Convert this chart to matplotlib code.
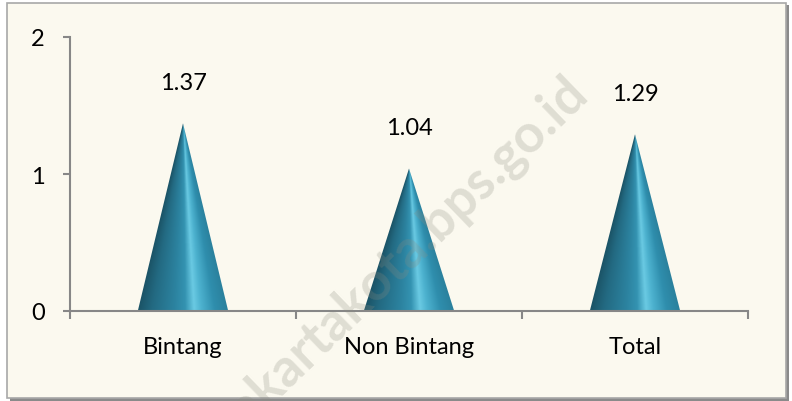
import numpy as np
import matplotlib.pyplot as plt
from matplotlib.patches import Polygon, Rectangle
from matplotlib.colors import LinearSegmentedColormap

# Data
categories = ["Bintang", "Non Bintang", "Total"]
values = [1.37, 1.04, 1.29]
y_ticks = [0, 1, 2]

plt.rcParams['font.family'] = ['Lato', 'DejaVu Sans']

fig = plt.figure(figsize=(7.92, 4.02), dpi=100)
fig.patch.set_facecolor("white")

W, H = 792, 402
# chart frame with a small shadow
fig.patches.append(Rectangle((10 / W, 1 - 402 / H), 779 / W, 396 / H,
                             transform=fig.transFigure, facecolor="#8a8a8a",
                             edgecolor="none", zorder=-2))
fig.patches.append(Rectangle((7 / W, 1 - 399 / H), 779 / W, 395 / H,
                             transform=fig.transFigure, facecolor="#fbf9ef",
                             edgecolor="#a8a8a8", linewidth=1.2, zorder=-1))

ax = fig.add_axes([70 / W, 1 - 312 / H, 678 / W, 274 / H])
ax.set_facecolor("none")
ax.set_zorder(1)

cone_cmap = LinearSegmentedColormap.from_list("cone", [
    (0.00, "#1b5467"),
    (0.15, "#236a82"),
    (0.40, "#2c83a0"),
    (0.52, "#3493b1"),
    (0.62, "#6acae3"),
    (0.70, "#4db2cf"),
    (0.85, "#2f8ead"),
    (1.00, "#2a809c"),
])

half = 0.2
for i, v in enumerate(values):
    xs = np.linspace(i - half, i + half, 200)
    ys = np.linspace(0, v, 200)
    X, Y = np.meshgrid(xs, ys)
    span = half * (1 - Y / v) + 1e-6
    u = np.clip((X - i) / span, -1, 1)
    img = ax.imshow((u + 1) / 2, cmap=cone_cmap, vmin=0, vmax=1,
                    extent=[i - half, i + half, 0, v], origin="lower",
                    aspect="auto", interpolation="bilinear", zorder=2)
    tri = Polygon([[i - half, 0], [i + half, 0], [i, v]], closed=True,
                  facecolor="none", edgecolor="none", transform=ax.transData)
    ax.add_patch(tri)
    img.set_clip_path(tri)
    ax.text(i, v + 0.3, f"{v:.2f}", ha="center", va="center",
            fontsize=17, color="black", zorder=3)

ax.set_xlim(-0.5, 2.5)
ax.set_ylim(0, 2)
ax.set_yticks(y_ticks)
ax.set_yticklabels([str(t) for t in y_ticks])
ax.set_xticks(range(len(categories)))
ax.set_xticklabels(categories)
ax.set_xticks([-0.5, 0.5, 1.5, 2.5], minor=True)

for s in ["top", "right"]:
    ax.spines[s].set_visible(False)
for s in ["left", "bottom"]:
    ax.spines[s].set_color("#878787")
    ax.spines[s].set_linewidth(1.5)
    ax.spines[s].set_zorder(4)

ax.tick_params(axis="y", length=5, width=1.5, color="#878787", pad=13,
               labelsize=17)
ax.tick_params(axis="x", which="major", length=0, pad=18, labelsize=17)
ax.tick_params(axis="x", which="minor", length=6, width=1.5, color="#878787")

# watermark
fig.text(405 / W, 1 - 258 / H, "jakartakota.bps.go.id", rotation=44,
         ha="center", va="center", fontsize=38, fontweight="bold",
         color="#8c8c80", alpha=0.25, zorder=10)

fig.savefig("out.png", dpi=100, facecolor=fig.get_facecolor())
